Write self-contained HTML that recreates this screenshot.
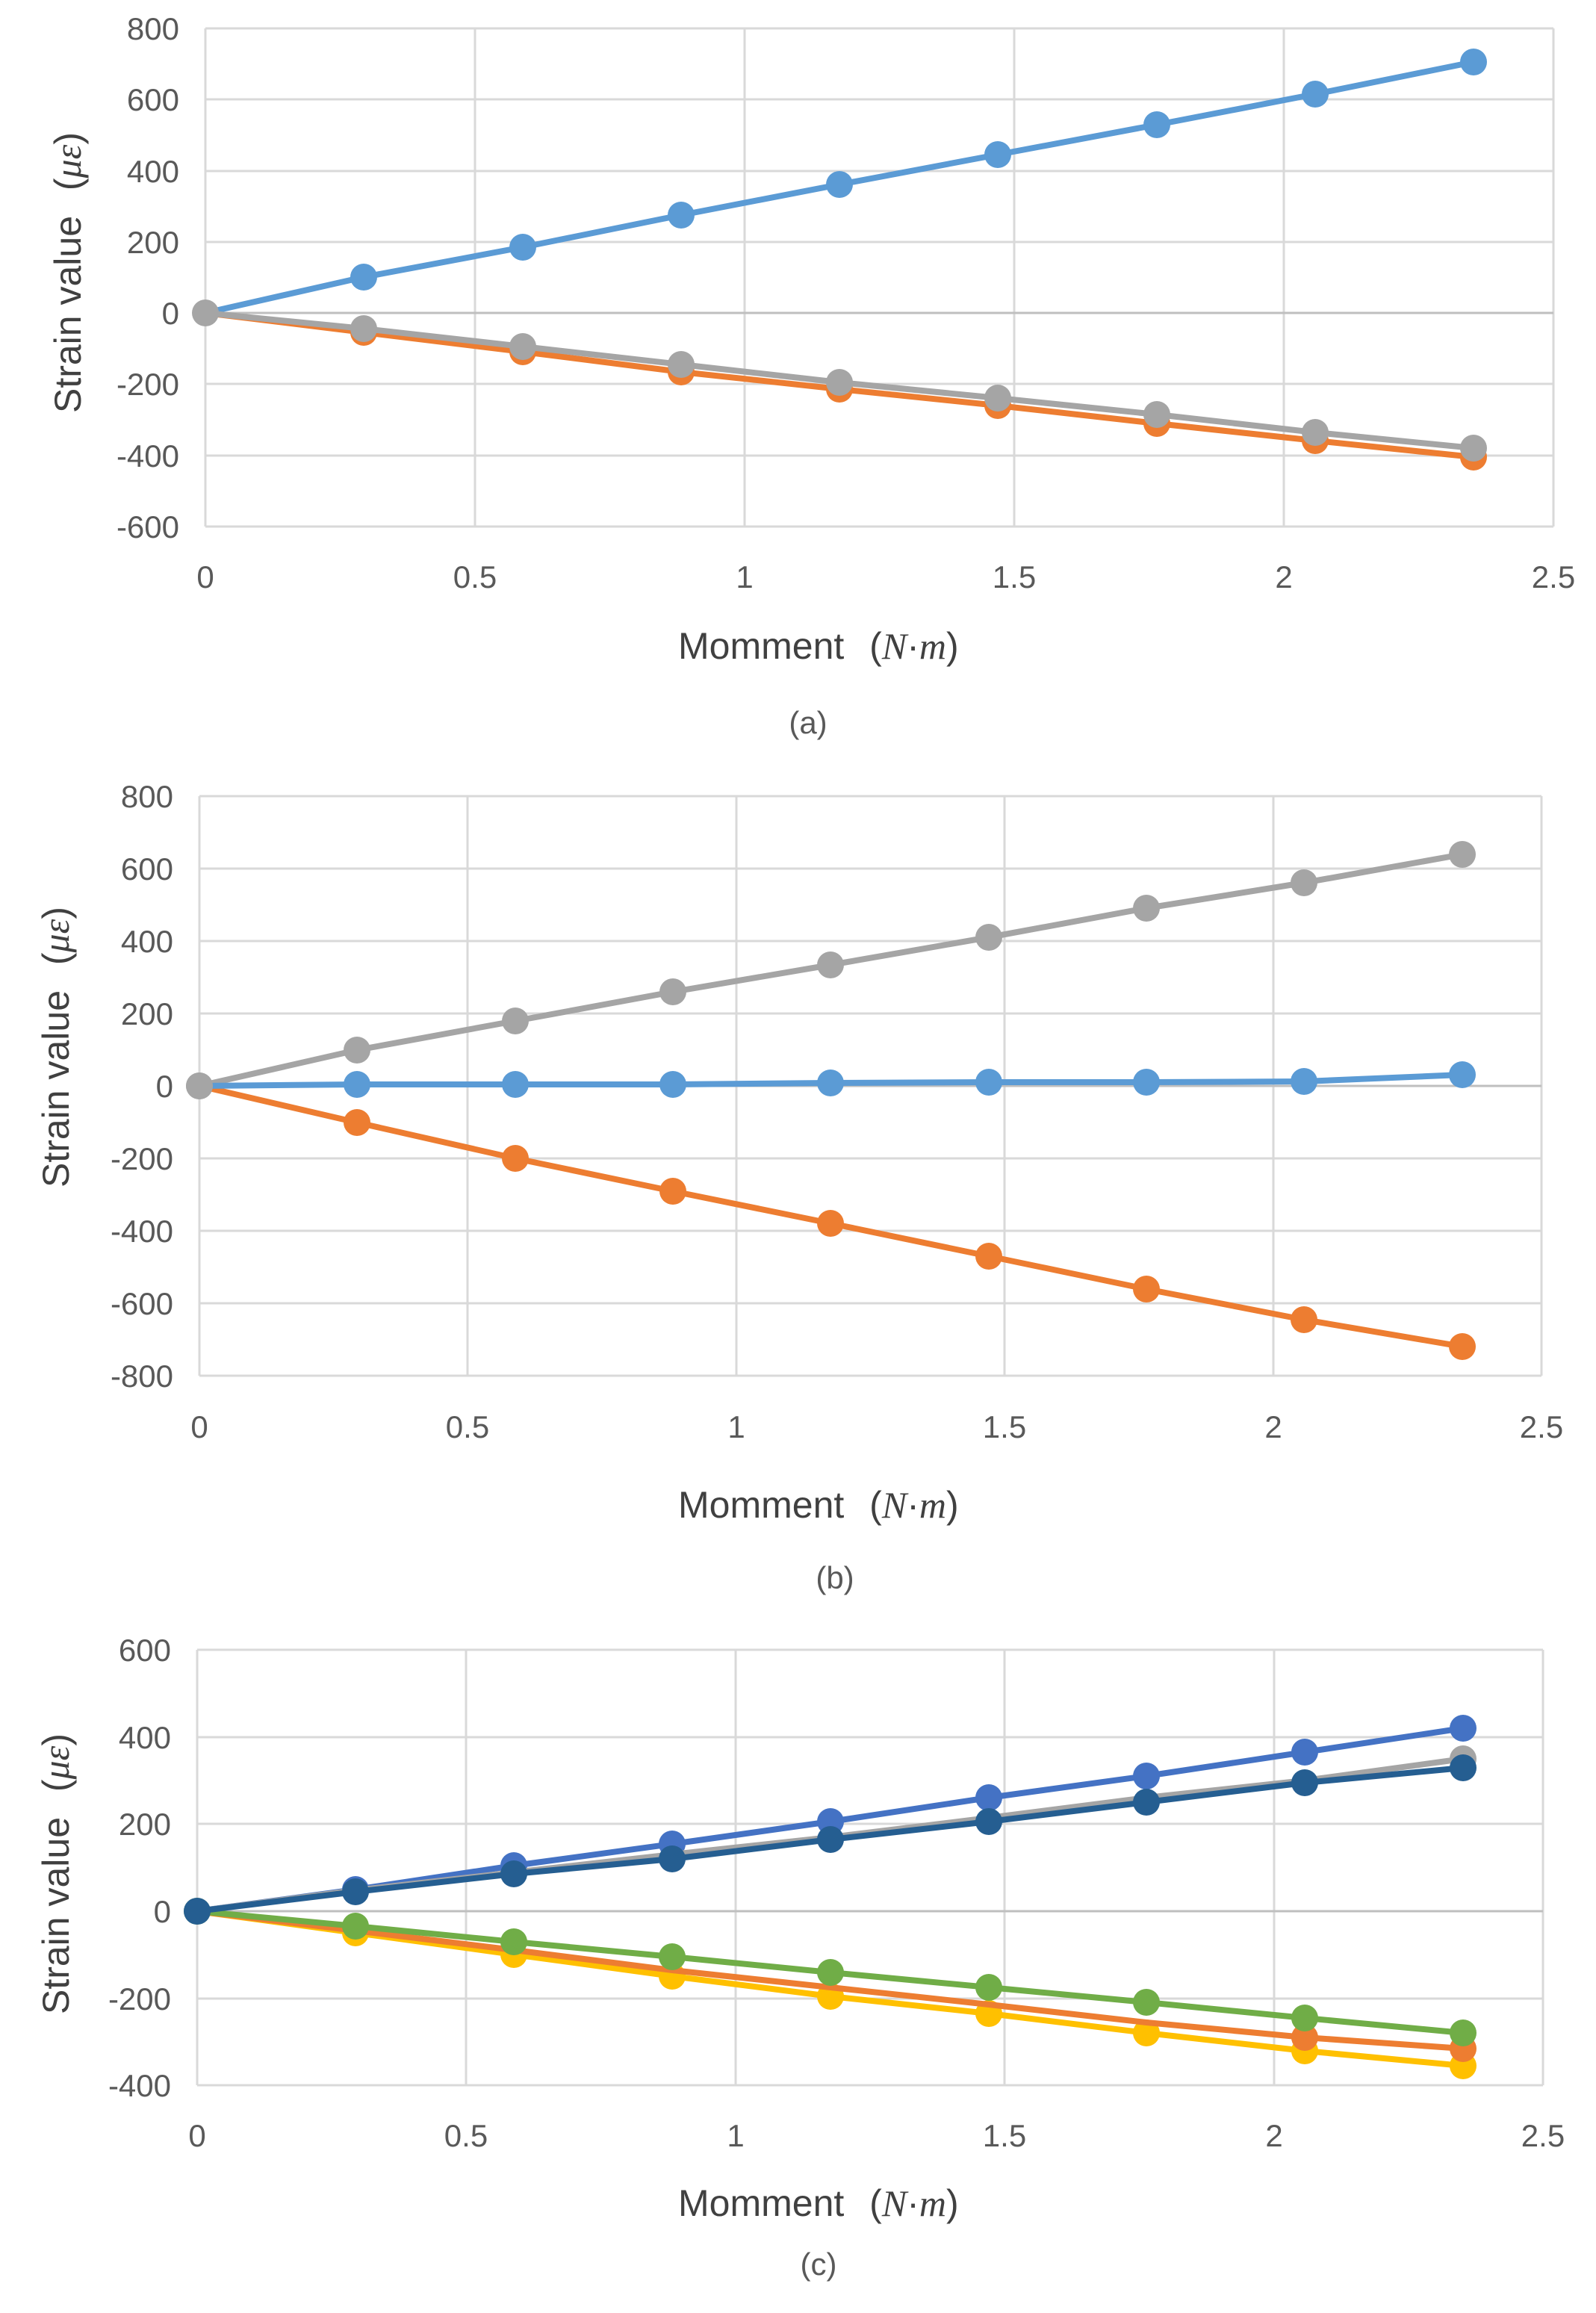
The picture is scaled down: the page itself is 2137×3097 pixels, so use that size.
<!DOCTYPE html>
<html><head><meta charset="utf-8"><style>
html,body{margin:0;padding:0;background:#fff}
svg{display:block}
text{font-family:"Liberation Sans",sans-serif;fill:#595959}
.t{font-size:42px}
.ti{font-size:50px;fill:#404040}
.m{font-family:"Liberation Serif",serif;font-style:italic}
.g{stroke:#d9d9d9;stroke-width:3}
.z{stroke:#bfbfbf;stroke-width:3}
polyline{stroke-width:8}
circle{r:18px}
</style></head><body>
<svg width="2137" height="3097" viewBox="0 0 2137 3097" xmlns="http://www.w3.org/2000/svg">
<!-- Chart a -->
<g>
<g class="g">
<line x1="275" y1="38" x2="2080" y2="38"/><line x1="275" y1="133" x2="2080" y2="133"/><line x1="275" y1="229" x2="2080" y2="229"/><line x1="275" y1="324" x2="2080" y2="324"/><line x1="275" y1="514" x2="2080" y2="514"/><line x1="275" y1="610" x2="2080" y2="610"/><line x1="275" y1="705" x2="2080" y2="705"/>
<line x1="275" y1="38" x2="275" y2="705"/><line x1="636" y1="38" x2="636" y2="705"/><line x1="997" y1="38" x2="997" y2="705"/><line x1="1358" y1="38" x2="1358" y2="705"/><line x1="1719" y1="38" x2="1719" y2="705"/><line x1="2080" y1="38" x2="2080" y2="705"/>
</g>
<line class="z" x1="275" y1="419" x2="2080" y2="419"/>
<g text-anchor="end" class="t"><text x="240" y="53">800</text><text x="240" y="148">600</text><text x="240" y="244">400</text><text x="240" y="339">200</text><text x="240" y="434">0</text><text x="240" y="529">-200</text><text x="240" y="625">-400</text><text x="240" y="720">-600</text></g>
<g text-anchor="middle" class="t"><text x="275" y="787">0</text><text x="636" y="787">0.5</text><text x="997" y="787">1</text><text x="1358" y="787">1.5</text><text x="1719" y="787">2</text><text x="2080" y="787">2.5</text></g>
<polyline fill="none" stroke="#5b9bd5" points="275,419 487,371 700,331 912,288 1124,247 1336,207 1549,167 1761,126 1973,83"/>
<g fill="#5b9bd5"><circle cx="487" cy="371" r="18"/><circle cx="700" cy="331" r="18"/><circle cx="912" cy="288" r="18"/><circle cx="1124" cy="247" r="18"/><circle cx="1336" cy="207" r="18"/><circle cx="1549" cy="167" r="18"/><circle cx="1761" cy="126" r="18"/><circle cx="1973" cy="83" r="18"/></g>
<polyline fill="none" stroke="#ed7d31" points="275,419 487,445 700,471 912,498 1124,521 1336,543 1549,567 1761,590 1973,612"/>
<g fill="#ed7d31"><circle cx="487" cy="445" r="18"/><circle cx="700" cy="471" r="18"/><circle cx="912" cy="498" r="18"/><circle cx="1124" cy="521" r="18"/><circle cx="1336" cy="543" r="18"/><circle cx="1549" cy="567" r="18"/><circle cx="1761" cy="590" r="18"/><circle cx="1973" cy="612" r="18"/></g>
<polyline fill="none" stroke="#a5a5a5" points="275,419 487,440 700,464 912,488 1124,512 1336,533 1549,555 1761,579 1973,600"/>
<g fill="#a5a5a5"><circle cx="275" cy="419" r="18"/><circle cx="487" cy="440" r="18"/><circle cx="700" cy="464" r="18"/><circle cx="912" cy="488" r="18"/><circle cx="1124" cy="512" r="18"/><circle cx="1336" cy="533" r="18"/><circle cx="1549" cy="555" r="18"/><circle cx="1761" cy="579" r="18"/><circle cx="1973" cy="600" r="18"/></g>
<text class="ti" x="908" y="882">Momment <tspan dx="20">(</tspan><tspan class="m">N</tspan>·<tspan class="m">m</tspan>)</text>
<text class="t" x="1082" y="982" text-anchor="middle">(a)</text>
<text class="ti" transform="translate(108,365) rotate(-90)" text-anchor="middle">Strain value <tspan dx="20">(</tspan><tspan class="m">με</tspan>)</text>
</g>
<!-- Chart b -->
<g>
<g class="g">
<line x1="267" y1="1066" x2="2064" y2="1066"/><line x1="267" y1="1163" x2="2064" y2="1163"/><line x1="267" y1="1260" x2="2064" y2="1260"/><line x1="267" y1="1357" x2="2064" y2="1357"/><line x1="267" y1="1551" x2="2064" y2="1551"/><line x1="267" y1="1648" x2="2064" y2="1648"/><line x1="267" y1="1745" x2="2064" y2="1745"/><line x1="267" y1="1842" x2="2064" y2="1842"/>
<line x1="267" y1="1066" x2="267" y2="1842"/><line x1="626" y1="1066" x2="626" y2="1842"/><line x1="986" y1="1066" x2="986" y2="1842"/><line x1="1345" y1="1066" x2="1345" y2="1842"/><line x1="1705" y1="1066" x2="1705" y2="1842"/><line x1="2064" y1="1066" x2="2064" y2="1842"/>
</g>
<line class="z" x1="267" y1="1454" x2="2064" y2="1454"/>
<g text-anchor="end" class="t"><text x="232" y="1081">800</text><text x="232" y="1178">600</text><text x="232" y="1275">400</text><text x="232" y="1372">200</text><text x="232" y="1469">0</text><text x="232" y="1566">-200</text><text x="232" y="1663">-400</text><text x="232" y="1760">-600</text><text x="232" y="1857">-800</text></g>
<g text-anchor="middle" class="t"><text x="267" y="1925">0</text><text x="626" y="1925">0.5</text><text x="986" y="1925">1</text><text x="1345" y="1925">1.5</text><text x="1705" y="1925">2</text><text x="2064" y="1925">2.5</text></g>
<polyline fill="none" stroke="#a5a5a5" points="267,1454 478,1406 690,1367 901,1328 1112,1292 1324,1255 1535,1216 1746,1182 1958,1144"/>
<g fill="#a5a5a5"><circle cx="267" cy="1454" r="18"/><circle cx="478" cy="1406" r="18"/><circle cx="690" cy="1367" r="18"/><circle cx="901" cy="1328" r="18"/><circle cx="1112" cy="1292" r="18"/><circle cx="1324" cy="1255" r="18"/><circle cx="1535" cy="1216" r="18"/><circle cx="1746" cy="1182" r="18"/><circle cx="1958" cy="1144" r="18"/></g>
<polyline fill="none" stroke="#ed7d31" points="267,1454 478,1503 690,1551 901,1595 1112,1638 1324,1682 1535,1726 1746,1767 1958,1803"/>
<g fill="#ed7d31"><circle cx="478" cy="1503" r="18"/><circle cx="690" cy="1551" r="18"/><circle cx="901" cy="1595" r="18"/><circle cx="1112" cy="1638" r="18"/><circle cx="1324" cy="1682" r="18"/><circle cx="1535" cy="1726" r="18"/><circle cx="1746" cy="1767" r="18"/><circle cx="1958" cy="1803" r="18"/></g>
<polyline fill="none" stroke="#5b9bd5" points="267,1454 478,1452 690,1452 901,1452 1112,1450 1324,1449 1535,1449 1746,1448 1958,1439"/>
<g fill="#5b9bd5"><circle cx="478" cy="1452" r="18"/><circle cx="690" cy="1452" r="18"/><circle cx="901" cy="1452" r="18"/><circle cx="1112" cy="1450" r="18"/><circle cx="1324" cy="1449" r="18"/><circle cx="1535" cy="1449" r="18"/><circle cx="1746" cy="1448" r="18"/><circle cx="1958" cy="1439" r="18"/></g>
<circle cx="267" cy="1454" r="18" fill="#a5a5a5"/>
<text class="ti" x="908" y="2032">Momment <tspan dx="20">(</tspan><tspan class="m">N</tspan>·<tspan class="m">m</tspan>)</text>
<text class="t" x="1118" y="2127" text-anchor="middle">(b)</text>
<text class="ti" transform="translate(92,1402) rotate(-90)" text-anchor="middle">Strain value <tspan dx="20">(</tspan><tspan class="m">με</tspan>)</text>
</g>
<!-- Chart c -->
<g>
<g class="g">
<line x1="264" y1="2209" x2="2066" y2="2209"/><line x1="264" y1="2326" x2="2066" y2="2326"/><line x1="264" y1="2442" x2="2066" y2="2442"/><line x1="264" y1="2676" x2="2066" y2="2676"/><line x1="264" y1="2792" x2="2066" y2="2792"/>
<line x1="264" y1="2209" x2="264" y2="2792"/><line x1="624" y1="2209" x2="624" y2="2792"/><line x1="985" y1="2209" x2="985" y2="2792"/><line x1="1345" y1="2209" x2="1345" y2="2792"/><line x1="1706" y1="2209" x2="1706" y2="2792"/><line x1="2066" y1="2209" x2="2066" y2="2792"/>
</g>
<line class="z" x1="264" y1="2559" x2="2066" y2="2559"/>
<g text-anchor="end" class="t"><text x="229" y="2224">600</text><text x="229" y="2341">400</text><text x="229" y="2457">200</text><text x="229" y="2574">0</text><text x="229" y="2691">-200</text><text x="229" y="2807">-400</text></g>
<g text-anchor="middle" class="t"><text x="264" y="2874">0</text><text x="624" y="2874">0.5</text><text x="985" y="2874">1</text><text x="1345" y="2874">1.5</text><text x="1706" y="2874">2</text><text x="2066" y="2874">2.5</text></g>
<polyline fill="none" stroke="#ffc000" points="264,2559 476,2588 688,2617 900,2646 1112,2673 1324,2696 1535,2722 1747,2746 1959,2766"/>
<g fill="#ffc000"><circle cx="476" cy="2588" r="18"/><circle cx="688" cy="2617" r="18"/><circle cx="900" cy="2646" r="18"/><circle cx="1112" cy="2673" r="18"/><circle cx="1324" cy="2696" r="18"/><circle cx="1535" cy="2722" r="18"/><circle cx="1747" cy="2746" r="18"/><circle cx="1959" cy="2766" r="18"/></g>
<polyline fill="none" stroke="#ed7d31" points="264,2559 476,2585 688,2611 900,2638 1112,2661 1324,2684 1535,2708 1747,2728 1959,2743"/>
<g fill="#ed7d31"><circle cx="1959" cy="2743" r="18"/><circle cx="1747" cy="2728" r="18"/></g>
<polyline fill="none" stroke="#70ad47" points="264,2559 476,2579 688,2600 900,2620 1112,2641 1324,2661 1535,2681 1747,2702 1959,2722"/>
<g fill="#70ad47"><circle cx="264" cy="2559" r="18"/><circle cx="476" cy="2579" r="18"/><circle cx="688" cy="2600" r="18"/><circle cx="900" cy="2620" r="18"/><circle cx="1112" cy="2641" r="18"/><circle cx="1324" cy="2661" r="18"/><circle cx="1535" cy="2681" r="18"/><circle cx="1747" cy="2702" r="18"/><circle cx="1959" cy="2722" r="18"/></g>
<polyline fill="none" stroke="#4472c4" points="264,2559 476,2530 688,2498 900,2469 1112,2439 1324,2407 1535,2378 1747,2346 1959,2314"/>
<g fill="#4472c4"><circle cx="476" cy="2530" r="18"/><circle cx="688" cy="2498" r="18"/><circle cx="900" cy="2469" r="18"/><circle cx="1112" cy="2439" r="18"/><circle cx="1324" cy="2407" r="18"/><circle cx="1535" cy="2378" r="18"/><circle cx="1747" cy="2346" r="18"/><circle cx="1959" cy="2314" r="18"/></g>
<polyline fill="none" stroke="#a5a5a5" points="264,2559 476,2531 688,2507 900,2483 1112,2460 1324,2434 1535,2407 1747,2384 1959,2355"/>
<circle cx="1959" cy="2355" r="18" fill="#a5a5a5"/>
<polyline fill="none" stroke="#255e91" points="264,2559 476,2533 688,2509 900,2489 1112,2463 1324,2439 1535,2413 1747,2387 1959,2367"/>
<g fill="#255e91"><circle cx="264" cy="2559" r="18"/><circle cx="476" cy="2533" r="18"/><circle cx="688" cy="2509" r="18"/><circle cx="900" cy="2489" r="18"/><circle cx="1112" cy="2463" r="18"/><circle cx="1324" cy="2439" r="18"/><circle cx="1535" cy="2413" r="18"/><circle cx="1747" cy="2387" r="18"/><circle cx="1959" cy="2367" r="18"/></g>
<text class="ti" x="908" y="2967">Momment <tspan dx="20">(</tspan><tspan class="m">N</tspan>·<tspan class="m">m</tspan>)</text>
<text class="t" x="1096" y="3046" text-anchor="middle">(c)</text>
<text class="ti" transform="translate(92,2509) rotate(-90)" text-anchor="middle">Strain value <tspan dx="20">(</tspan><tspan class="m">με</tspan>)</text>
</g>
</svg>
</body></html>
